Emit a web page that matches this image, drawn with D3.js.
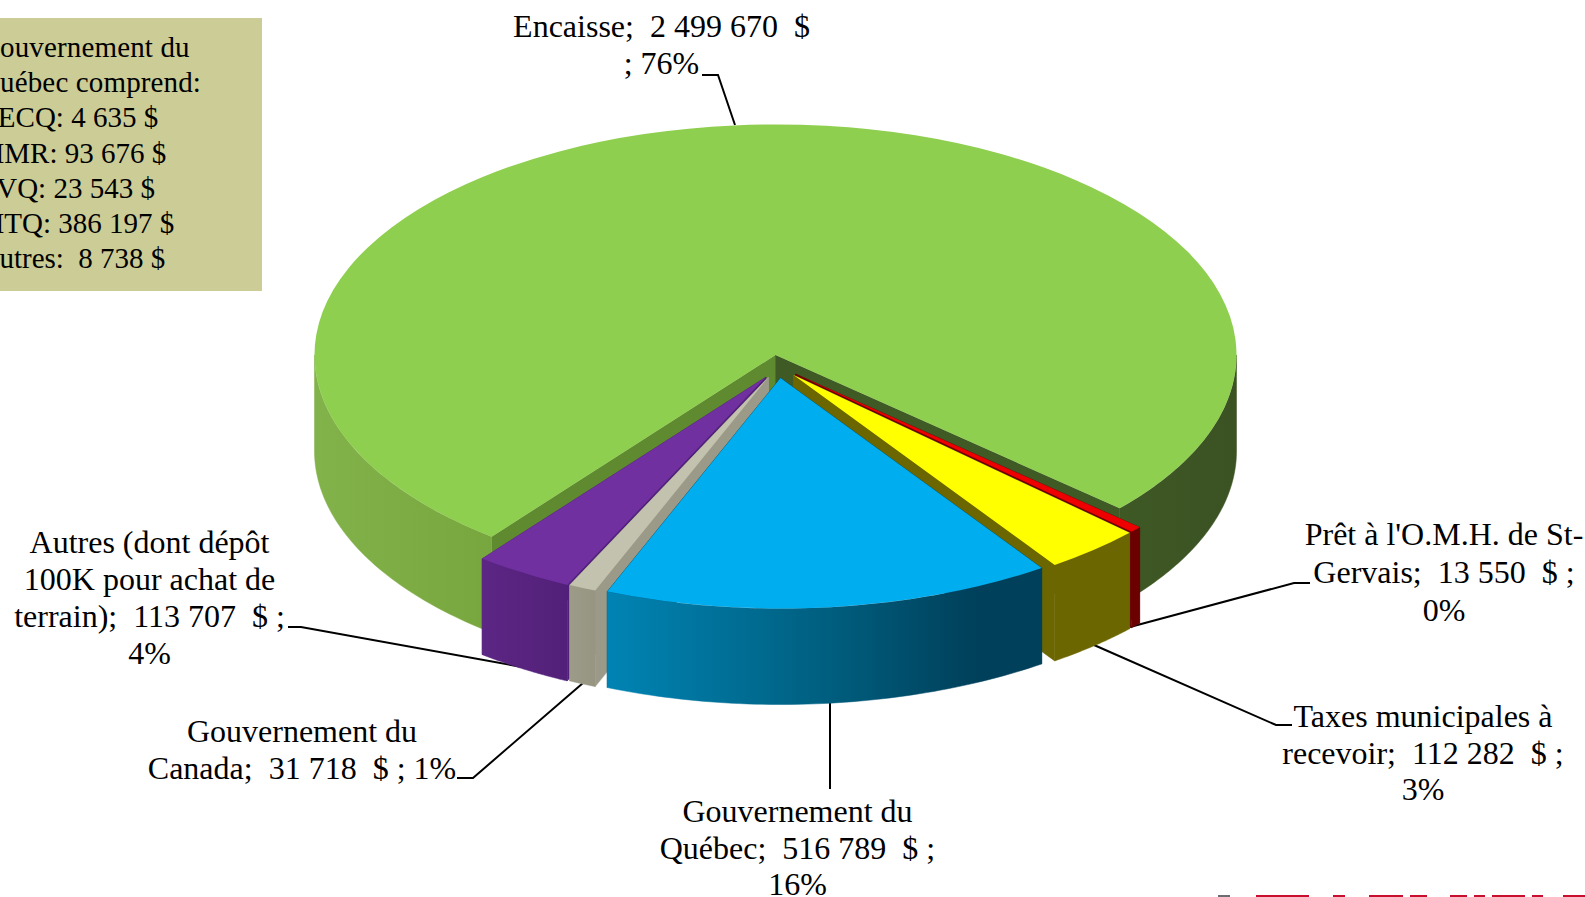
<!DOCTYPE html>
<html lang="fr"><head><meta charset="utf-8">
<script src="https://cdn.jsdelivr.net/npm/d3@7/dist/d3.min.js"></script>
<style>
html,body{margin:0;padding:0;background:#fff;overflow:hidden}
svg{display:block}
text{font-family:"Liberation Serif","Times New Roman",serif;fill:#000;white-space:pre}
</style></head><body>
<svg id="c" width="1585" height="897"></svg>
<script>
// ---- data ----
const categories = ["Encaisse","Prêt à l'O.M.H. de St-Gervais","Taxes municipales à recevoir","Gouvernement du Québec","Gouvernement du Canada","Autres (dont dépôt 100K pour achat de terrain)"];
const values = [2499670, 13550, 112282, 516789, 31718, 113707];
const noteLines = ["Gouvernement du","Québec comprend:","CECQ: 4 635 $","MMR: 93 676 $","TVQ: 23 543 $","MTQ: 386 197 $","Autres:  8 738 $"];
const labelLines = [
  ["Encaisse;  2 499 670  $","; 76%"],
  ["Prêt à l'O.M.H. de St-","Gervais;  13 550  $ ;","0%"],
  ["Taxes municipales à","recevoir;  112 282  $ ;","3%"],
  ["Gouvernement du","Québec;  516 789  $ ;","16%"],
  ["Gouvernement du","Canada;  31 718  $ ; 1%"],
  ["Autres (dont dépôt","100K pour achat de","terrain);  113 707  $ ;","4%"]
];
// ---- layout & style ----
const W=1585,H=897, cx=775.5, cy=355, R=461, squash=0.5, depth=96, startDeg=218;
const shift=[[0,0],[20,19],[18,20],[5,23],[-7,22],[-9.5,22]];
const topColor=["#8fcf4f","#ee0000","#ffff00","#00aeef","#c3c2af","#7030a0"];
// cut faces: [face at the slice's end angle, face at its start angle]
const cutColor=[["#3f5a25","#5f8a30"],["#6b0000","#6b0000"],["#6b6600","#6b6600"],["#00405a","#00405a"],["#9b9a88","#9b9a88"],["#51207a","#51207a"]];
const wallStops=[
  [[0,"#82b24a"],[0.2,"#78a63e"],[0.85,"#3f5a25"],[1,"#3b5223"]],
  [[0,"#6b0000"],[1,"#6b0000"]],
  [[0,"#6b6600"],[1,"#6b6600"]],
  [[0,"#0084b4"],[0.5,"#005f80"],[0.85,"#00405a"],[1,"#00405a"]],
  [[0,"#9c9b89"],[1,"#94937f"]],
  [[0,"#5c2684"],[1,"#522078"]]
];
const wallSpan=[[314,1237],[1125,1145],[1050,1130],[606,1042],[570,606],[482,570]];
const labelPos=[[661.5,37,37.2],[1444,545,38],[1423,727,36.5],[797.5,822,36.5],[302,742,37],[149.5,553,37]];
const noteX=[-21,-21,-21.5,-21.5,-21.5,-21.5,-21.5];
const noteSpacing=[0.14,0.14,0,0,0,0,0];
const leaders=[
  [[702,75],[718,75],[735,125]],
  [[1130,627],[1294,583],[1310,583]],
  [[1094,645],[1276,725],[1292,725]],
  [[830,703],[830,789]],
  [[583,683],[473,778],[457,778]],
  [[522,667],[301,627],[288,627]]
];
const logoBits=[[1218,1230,"#6d6e71"],[1256,1309,"#c8102e"],[1333,1345,"#c8102e"],[1369,1403,"#c8102e"],[1410,1427,"#c8102e"],[1450,1467,"#c8102e"],[1474,1485,"#c8102e"],[1492,1525,"#c8102e"],[1532,1543,"#c8102e"],[1563,1585,"#c8102e"]];

const svg=d3.select("#c");
const defs=svg.append("defs");
const TAU=2*Math.PI;
const pie=d3.pie().sort(null).startAngle(startDeg*Math.PI/180).endAngle((startDeg+360)*Math.PI/180);
const arcs=pie(values);
const arcGen=d3.arc().innerRadius(0).outerRadius(R);
const rim=(a,i)=>[cx+shift[i][0]+R*Math.sin(a), cy+shift[i][1]-R*squash*Math.cos(a)];
const line=d3.line();

wallStops.forEach((st,i)=>{
  const g=defs.append("linearGradient").attr("id","w"+i).attr("gradientUnits","userSpaceOnUse")
    .attr("x1",wallSpan[i][0]).attr("x2",wallSpan[i][1]).attr("y1",0).attr("y2",0);
  st.forEach(s=>g.append("stop").attr("offset",s[0]).attr("stop-color",s[1]));
});

// note box
svg.append("rect").attr("x",0).attr("y",18).attr("width",262).attr("height",273).attr("fill","#cbcc96");
const noteY=d3.scaleLinear().domain([0,1]).range([57,92.2]);
svg.selectAll("text.note").data(noteLines).join("text").attr("class","note")
  .attr("x",(d,i)=>noteX[i]).attr("y",(d,i)=>noteY(i)).attr("letter-spacing",(d,i)=>noteSpacing[i])
  .attr("font-size",29).text(d=>d);

// leader lines
svg.selectAll("path.leader").data(leaders).join("path").attr("class","leader")
  .attr("d",d=>line(d)).attr("fill","none").attr("stroke","#000").attr("stroke-width",2);
const pie3d=svg.append("g");

function drawSlice(i){
  const a=arcs[i], g=pie3d.append("g").attr("data-category",categories[i]);
  const ax=cx+shift[i][0], ay=cy+shift[i][1];
  const cut=(ang,col)=>{
    const p=rim(ang,i);
    g.append("path").attr("fill",col).attr("stroke",col).attr("stroke-width",0.5)
     .attr("d",line([[ax,ay],p,[p[0],p[1]+depth],[ax,ay+depth]])+"Z");
  };
  cut(a.startAngle,cutColor[i][1]);
  cut(a.endAngle,cutColor[i][0]);
  const wall=(from,to)=>{
    const n=d3.range(0,61).map(k=>from+(to-from)*k/60);
    const up=n.map(t=>rim(t,i)), dn=n.map(t=>{const p=rim(t,i);return [p[0],p[1]+depth];}).reverse();
    g.append("path").attr("fill",`url(#w${i})`).attr("stroke",`url(#w${i})`).attr("stroke-width",0.5).attr("d",line(up.concat(dn))+"Z");
  };
  if(i===0){ // Encaisse wraps around: two visible wall pieces
    wall(Math.PI/2,a.endAngle-TAU);
    wall(a.startAngle,Math.PI*1.5);
  } else wall(a.startAngle-TAU,a.endAngle-TAU);
  g.append("path").attr("transform",`translate(${ax},${ay}) scale(1,${squash})`)
   .attr("fill",topColor[i]).attr("d",arcGen({startAngle:a.startAngle,endAngle:a.endAngle}));
}
[0,5,4,1,2,3].forEach(drawSlice);

// labels
labelLines.forEach((ls,i)=>{
  svg.append("text").attr("font-size",32).attr("text-anchor","middle")
    .selectAll("tspan").data(ls).join("tspan")
    .attr("x",labelPos[i][0]).attr("y",(d,k)=>labelPos[i][1]+k*labelPos[i][2]).text(d=>d);
});
// cropped logo at the page bottom
svg.selectAll("rect.logo").data(logoBits).join("rect").attr("class","logo")
  .attr("x",d=>d[0]).attr("width",d=>d[1]-d[0]).attr("y",895).attr("height",2).attr("fill",d=>d[2]);
</script></body></html>
